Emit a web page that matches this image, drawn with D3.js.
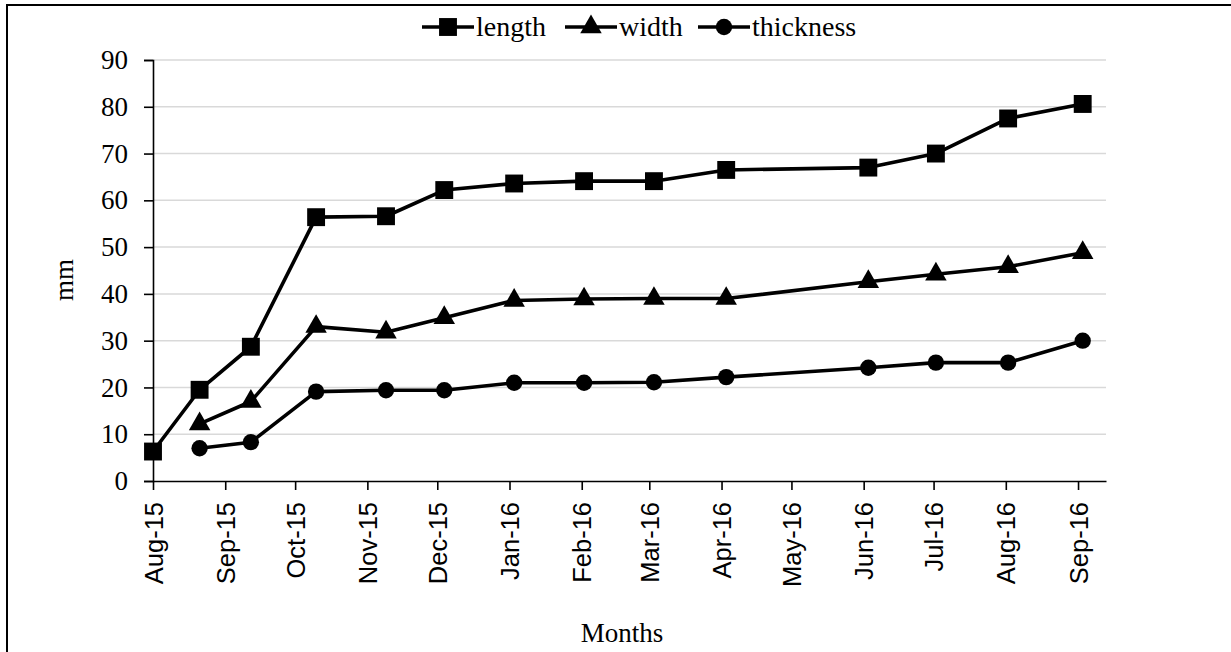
<!DOCTYPE html>
<html lang="en">
<head>
    <meta charset="UTF-8">
    <title>length / width / thickness</title>
    <script type="text/javascript" src="https://cdn.jsdelivr.net/npm/d3@7/dist/d3.min.js"></script>
    <style>
        body { margin: 0; background: #fff; }
    </style>
</head>
<body>
<script type="text/javascript">
    // sampling dates and measurements (mm)
    let dates = ['2015-08-01', '2015-08-21', '2015-09-12', '2015-10-10', '2015-11-09', '2015-12-04',
        '2016-01-03', '2016-02-02', '2016-03-03', '2016-04-03', '2016-06-03', '2016-07-02',
        '2016-08-02', '2016-09-03'];
    let lengthVals = [6.3, 19.5, 28.7, 56.4, 56.6, 62.2, 63.6, 64.1, 64.1, 66.5, 67.0, 70.0, 77.5, 80.6];
    let widthVals = [null, 12.2, 17.0, 33.0, 31.8, 34.9, 38.6, 38.9, 39.0, 39.0, 42.6, 44.2, 45.8, 48.8];
    let thicknessVals = [null, 7.0, 8.3, 19.1, 19.4, 19.4, 21.0, 21.0, 21.1, 22.2, 24.2, 25.3, 25.3, 30.0];
    let seriesNames = ['length', 'width', 'thickness'];
    let yTicks = [0, 10, 20, 30, 40, 50, 60, 70, 80, 90];
    let xDomain = ['2015-08-01', '2016-09-13'];

    let width = 1231;
    let height = 652;
    let parse = d3.timeParse('%Y-%m-%d');
    let serif = '"Liberation Serif", "Times New Roman", serif';
    let sans = '"Liberation Sans", Arial, sans-serif';

    let svg = d3.select('body')
        .append('svg')
        .attr('width', width)
        .attr('height', height);

    // outer frame (runs off the right and bottom edges)
    svg.append('rect')
        .attr('x', 7).attr('y', 5)
        .attr('width', 1250).attr('height', 680)
        .attr('fill', 'none')
        .attr('stroke', '#000')
        .attr('stroke-width', 2);

    let x = d3.scaleTime()
        .domain(xDomain.map(parse))
        .range([153, 1106]);
    let y = d3.scaleLinear()
        .domain([0, 90])
        .range([481, 60]);

    // horizontal gridlines
    svg.append('g')
        .selectAll('line')
        .data(yTicks.slice(1))
        .enter()
        .append('line')
        .attr('x1', x.range()[0])
        .attr('x2', x.range()[1])
        .attr('y1', d => y(d))
        .attr('y2', d => y(d))
        .attr('stroke', '#d9d9d9')
        .attr('stroke-width', 1.5);

    // y axis
    let yAxis = svg.append('g')
        .attr('transform', 'translate(' + x.range()[0] + ',0)')
        .call(d3.axisLeft(y).tickValues(yTicks).tickSize(9).tickPadding(16));
    yAxis.select('.domain').attr('stroke', '#000').attr('stroke-width', 1.6);
    yAxis.selectAll('.tick line').attr('stroke', '#000').attr('stroke-width', 1.6);
    yAxis.selectAll('.tick text')
        .style('font-family', serif)
        .style('font-size', '27px')
        .attr('fill', '#000');

    // x axis, one tick per month
    let xAxis = svg.append('g')
        .attr('transform', 'translate(0,' + y(0) + ')')
        .call(d3.axisBottom(x)
            .ticks(d3.timeMonth.every(1))
            .tickFormat(d3.timeFormat('%b-%y'))
            .tickSize(9)
            .tickSizeOuter(0));
    xAxis.select('.domain').attr('stroke', '#000').attr('stroke-width', 1.6);
    xAxis.selectAll('.tick line').attr('stroke', '#000').attr('stroke-width', 1.6);
    xAxis.selectAll('.tick text')
        .attr('transform', 'rotate(-90)')
        .attr('x', -21)
        .attr('y', 0)
        .attr('dy', '0.36em')
        .style('text-anchor', 'end')
        .style('font-family', sans)
        .style('font-size', '25.5px')
        .attr('fill', '#000');

    // axis titles
    svg.append('text')
        .attr('x', 622).attr('y', 642)
        .attr('text-anchor', 'middle')
        .style('font-family', serif)
        .style('font-size', '27px')
        .text('Months');
    svg.append('text')
        .attr('transform', 'translate(73,280) rotate(-90)')
        .attr('text-anchor', 'middle')
        .style('font-family', serif)
        .style('font-size', '27px')
        .text('mm');

    // series
    let seriesVals = [lengthVals, widthVals, thicknessVals];
    let symbols = [d3.symbolSquare, d3.symbolTriangle, d3.symbolCircle];
    let symbolSizes = [320, 200, 210];

    let line = d3.line()
        .defined(d => d.v !== null)
        .x(d => x(d.date))
        .y(d => y(d.v));

    seriesVals.forEach(function (vals, i) {
        let pts = vals.map(function (v, j) {
            return { date: parse(dates[j]), v: v };
        });
        svg.append('path')
            .datum(pts)
            .attr('fill', 'none')
            .attr('stroke', '#000')
            .attr('stroke-width', 3.6)
            .attr('stroke-linejoin', 'round')
            .attr('d', line);
        svg.append('g')
            .selectAll('path')
            .data(pts.filter(d => d.v !== null))
            .enter()
            .append('path')
            .attr('transform', d => 'translate(' + x(d.date) + ',' + y(d.v) + ')')
            .attr('d', d3.symbol().type(symbols[i]).size(symbolSizes[i]))
            .attr('fill', '#000');
    });

    // legend
    let legendX = [422, 565, 698];
    let legend = svg.append('g');
    seriesNames.forEach(function (name, i) {
        let g = legend.append('g').attr('transform', 'translate(' + legendX[i] + ',27)');
        g.append('line')
            .attr('x1', 0).attr('x2', 52)
            .attr('stroke', '#000')
            .attr('stroke-width', 3.6);
        g.append('path')
            .attr('transform', 'translate(26,0)')
            .attr('d', d3.symbol().type(symbols[i]).size(symbolSizes[i]))
            .attr('fill', '#000');
        g.append('text')
            .attr('x', 54)
            .attr('y', 9)
            .style('font-family', serif)
            .style('font-size', '28px')
            .text(name);
    });
</script>
</body>
</html>
